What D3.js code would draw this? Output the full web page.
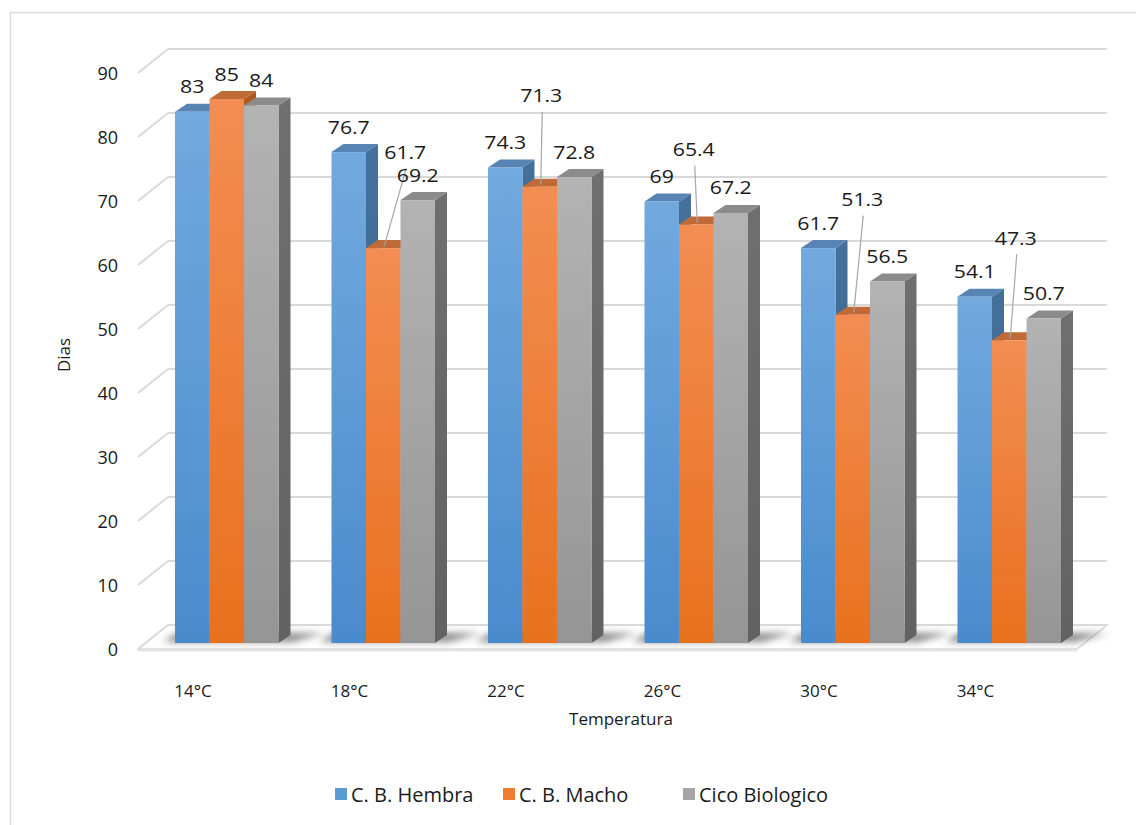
<!DOCTYPE html>
<html>
<head>
<meta charset="utf-8">
<script src="https://cdn.jsdelivr.net/npm/d3@7"></script>
<style>
  html, body { margin: 0; padding: 0; background: #ffffff; }
  svg { display: block; font-family: "Open Sans", "Noto Sans", sans-serif; }
</style>
</head>
<body>
<svg id="chart" width="1136" height="825"></svg>
<script>
// ---- data ----
const categories = ["14°C", "18°C", "22°C", "26°C", "30°C", "34°C"];
const seriesNames = ["C. B. Hembra", "C. B. Macho", "Cico Biologico"];
const hembra = [83, 76.7, 74.3, 69, 61.7, 54.1];
const macho = [85, 61.7, 71.3, 65.4, 51.3, 47.3];
const cicloBiologico = [84, 69.2, 72.8, 67.2, 56.5, 50.7];
const yTicks = [0, 10, 20, 30, 40, 50, 60, 70, 80, 90];
const yTitle = "Dias";
const xTitle = "Temperatura";

// callout offsets (label centre relative to bar top) for the "Macho" labels
const machoCallouts = [null, [22, -97], [1.5, -92], [-2.5, -76], [9.5, -116], [6.5, -103]];

const seriesValues = [hembra, macho, cicloBiologico];

// ---- styling ----
const palette = [
  { top: "#5884b4", side: "#44709b", g0: "#72a9de", g1: "#4a8bcd" },
  { top: "#c06a37", side: "#b0591f", g0: "#f38d53", g1: "#e8711d" },
  { top: "#8b8b8b", side: "#6f6f6f", g0: "#b3b3b3", g1: "#959595" }
];
const legendColors = ["#5b9bd5", "#ed7d31", "#a5a5a5"];
const gridColor = "#d9d9d9";
const textColor = "#1a1a1a";
const labelStretch = 1.12;

const svg = d3.select("#chart");
const defs = svg.append("defs");

palette.forEach((p, i) => {
  const g = defs.append("linearGradient").attr("id", "grad" + i)
    .attr("x1", 0).attr("y1", 0).attr("x2", 0).attr("y2", 1);
  g.append("stop").attr("offset", "0%").attr("stop-color", p.g0);
  g.append("stop").attr("offset", "100%").attr("stop-color", p.g1);
  const s = defs.append("linearGradient").attr("id", "side" + i)
    .attr("x1", 0).attr("y1", 0).attr("x2", 0).attr("y2", 1);
  s.append("stop").attr("offset", "0%").attr("stop-color", p.side);
  s.append("stop").attr("offset", "100%").attr("stop-color", d3.color(p.side).darker(0.35));
});
const blur = defs.append("filter").attr("id", "shadowBlur")
  .attr("x", "-50%").attr("y", "-200%").attr("width", "200%").attr("height", "500%");
blur.append("feGaussianBlur").attr("stdDeviation", 3.5);

// chart frame
svg.append("rect")
  .attr("x", 10.5).attr("y", 12.5).attr("width", 1200).attr("height", 900)
  .attr("fill", "none").attr("stroke", gridColor).attr("stroke-width", 1.5);

// ---- geometry ----
const WALL_DX = 30, WALL_DY = -24;     // depth of the floor / side wall
const BAR_DX = 12, BAR_DY = -8;        // depth of each column
const frontLeft = 138, frontRight = 1077;

const yFront = d3.scaleLinear().domain([0, 90]).range([649, 73]);
const yBar = d3.scaleLinear().domain([0, 90]).range([643, 67]);
const xGroup = d3.scaleBand().domain(categories).range([148, 148 + 156.5 * categories.length]);
const xSeries = d3.scaleBand().domain(seriesNames).range([27, 27 + 34.5 * seriesNames.length]);

// floor
const floor = [
  [frontLeft, yFront(0)], [frontRight, yFront(0)],
  [frontRight + WALL_DX, yFront(0) + WALL_DY], [frontLeft + WALL_DX, yFront(0) + WALL_DY]
];
svg.append("polygon")
  .attr("points", floor.map(p => p.join(",")).join(" "))
  .attr("fill", "#ffffff").attr("stroke", gridColor).attr("stroke-width", 1.5);
svg.append("line")
  .attr("x1", frontLeft).attr("x2", frontRight)
  .attr("y1", yFront(0) + 1).attr("y2", yFront(0) + 1)
  .attr("stroke", "#e3e3e3").attr("stroke-width", 3);

// side wall diagonals and back-wall gridlines
const grid = svg.append("g");
grid.selectAll("line.diag").data(yTicks).join("line")
  .attr("class", "diag")
  .attr("x1", frontLeft).attr("y1", d => yFront(d))
  .attr("x2", frontLeft + WALL_DX).attr("y2", d => yFront(d) + WALL_DY)
  .attr("stroke", gridColor).attr("stroke-width", 2);
grid.selectAll("line.back").data(yTicks).join("line")
  .attr("class", "back")
  .attr("x1", frontLeft + WALL_DX).attr("y1", d => yFront(d) + WALL_DY)
  .attr("x2", frontRight + WALL_DX).attr("y2", d => yFront(d) + WALL_DY)
  .attr("stroke", gridColor).attr("stroke-width", 2);

// y tick labels
svg.append("g").selectAll("text").data(yTicks).join("text")
  .attr("x", 118).attr("y", d => yFront(d))
  .attr("text-anchor", "end").attr("dominant-baseline", "central")
  .attr("font-size", 18).attr("fill", textColor)
  .text(d => d);

// floor shadows under each group
const shadows = svg.append("g").attr("filter", "url(#shadowBlur)");
categories.forEach((c) => {
  const x0 = xGroup(c) + xSeries(seriesNames[0]);
  const x1 = xGroup(c) + xSeries(seriesNames[2]) + xSeries.bandwidth() + BAR_DX;
  const base = yBar(0);
  shadows.append("polygon")
    .attr("points", [
      [x0 - 12, base - 1], [x1 + 2, base - 1], [x1 + 34, base + BAR_DY - 2], [x0 + 2, base + BAR_DY - 2]
    ].map(p => p.join(",")).join(" "))
    .attr("fill", "#3a3a3a").attr("opacity", 0.6);
});

// ---- columns ----
const bars = svg.append("g");
categories.forEach((c, gi) => {
  seriesNames.forEach((s, si) => {
    const v = seriesValues[si][gi];
    const x = xGroup(c) + xSeries(s);
    const w = xSeries.bandwidth();
    const y = yBar(v);
    const base = yBar(0);
    const p = palette[si];
    const bar = bars.append("g");
    bar.append("polygon")
      .attr("points", [[x + w, y], [x + w + BAR_DX, y + BAR_DY], [x + w + BAR_DX, base + BAR_DY], [x + w, base]]
        .map(q => q.join(",")).join(" "))
      .attr("fill", `url(#side${si})`);
    bar.append("polygon")
      .attr("points", [[x, y], [x + BAR_DX, y + BAR_DY], [x + w + BAR_DX, y + BAR_DY], [x + w, y]]
        .map(q => q.join(",")).join(" "))
      .attr("fill", p.top);
    bar.append("rect")
      .attr("x", x).attr("y", y).attr("width", w).attr("height", base - y)
      .attr("fill", `url(#grad${si})`);
  });
});

// ---- data labels ----
const labels = svg.append("g").attr("font-size", 19).attr("fill", textColor);
categories.forEach((c, gi) => {
  seriesNames.forEach((s, si) => {
    const v = seriesValues[si][gi];
    const cx = xGroup(c) + xSeries(s) + xSeries.bandwidth() / 2;
    const y = yBar(v);
    const callout = si === 1 ? machoCallouts[gi] : null;
    let lx = cx, ly = y - 26;
    if (callout) {
      lx = cx + callout[0];
      ly = y + callout[1];
      labels.append("line")
        .attr("x1", lx + 1).attr("y1", ly + 17)
        .attr("x2", cx + 1).attr("y2", y - 2)
        .attr("stroke", "#a6a6a6").attr("stroke-width", 1.2);
    }
    labels.append("text")
      .attr("transform", `translate(${lx},${ly}) scale(${labelStretch},1)`)
      .attr("text-anchor", "middle").attr("dominant-baseline", "central")
      .text(String(v));
  });
});

// ---- category labels ----
svg.append("g").selectAll("text").data(categories).join("text")
  .attr("x", d => xGroup(d) + 45).attr("y", 690)
  .attr("text-anchor", "middle").attr("dominant-baseline", "central")
  .attr("font-size", 17).attr("fill", textColor)
  .text(d => d);

// ---- axis titles ----
svg.append("text")
  .attr("x", 621).attr("y", 718)
  .attr("text-anchor", "middle").attr("dominant-baseline", "central")
  .attr("font-size", 17).attr("fill", textColor)
  .text(xTitle);
svg.append("text")
  .attr("transform", "translate(63,355) rotate(-90)")
  .attr("text-anchor", "middle").attr("dominant-baseline", "central")
  .attr("font-size", 17).attr("fill", textColor)
  .text(yTitle);

// ---- legend ----
const legendX = [335, 503, 683];
const legend = svg.append("g");
seriesNames.forEach((s, i) => {
  legend.append("rect")
    .attr("x", legendX[i]).attr("y", 788).attr("width", 12).attr("height", 12)
    .attr("fill", legendColors[i]);
  legend.append("text")
    .attr("x", legendX[i] + 16).attr("y", 794)
    .attr("dominant-baseline", "central")
    .attr("font-size", 20).attr("fill", textColor)
    .text(s);
});
</script>
</body>
</html>
